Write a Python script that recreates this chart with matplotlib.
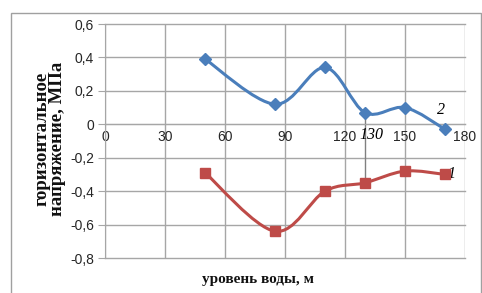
import numpy as np
import matplotlib
matplotlib.use("Agg")
import matplotlib.pyplot as plt
from matplotlib.path import Path
from matplotlib.patches import PathPatch, Rectangle

# water level, m
level = [50, 85, 110, 130, 150, 170]
# horizontal stress, MPa
stress_1 = [-0.29, -0.64, -0.40, -0.35, -0.28, -0.30]
stress_2 = [0.39, 0.12, 0.34, 0.07, 0.10, -0.03]

x_ticks = [0, 30, 60, 90, 120, 150, 180]
y_ticks = [-0.8, -0.6, -0.4, -0.2, 0, 0.2, 0.4, 0.6]

blue = "#4a7ebb"
red = "#be4b48"
grid_c = "#a6a6a6"


def smooth_path(x, y):
    # excel-like smoothed line: bezier segments through the points
    p = np.column_stack([x, y]).astype(float)
    n = len(p)
    verts = [p[0]]
    codes = [Path.MOVETO]
    for i in range(n - 1):
        p0 = p[i - 1] if i > 0 else p[i]
        p3 = p[i + 2] if i + 2 < n else p[i + 1]
        c1 = p[i] + (p[i + 1] - p0) / 6
        c2 = p[i + 1] - (p3 - p[i]) / 6
        verts += [c1, c2, p[i + 1]]
        codes += [Path.CURVE4] * 3
    return Path(verts, codes)


fig = plt.figure(figsize=(4.82, 2.93), dpi=100)
ax = fig.add_axes([105 / 482, 1 - 258 / 293, 360 / 482, 234 / 293])

fig.patches.append(Rectangle((11 / 482, -0.02), 470 / 482, 1 - 13 / 293 + 0.02,
                             transform=fig.transFigure, fill=False,
                             edgecolor="#a0a0a0", lw=1))

ax.set_xlim(0, 180)
ax.set_ylim(-0.8, 0.6)
ax.set_xticks(x_ticks)
ax.set_yticks(y_ticks)
ax.set_xticklabels([str(v) for v in x_ticks])
ax.set_yticklabels([("%g" % v).replace(".", ",") for v in y_ticks])

ax.grid(True, color=grid_c, lw=1)
for gl in ax.get_xgridlines() + ax.get_ygridlines():
    gl.set_clip_on(False)
ax.set_axisbelow(True)
for s in ["top", "right"]:
    ax.spines[s].set_visible(False)
ax.spines["bottom"].set_position(("data", 0))
ax.spines["bottom"].set_color(grid_c)
ax.spines["left"].set_color(grid_c)
ax.tick_params(axis="x", length=0, pad=4, labelsize=10, labelcolor="#262626")
ax.tick_params(axis="y", length=5, color=grid_c, pad=3, labelsize=10, labelcolor="#262626")
for lab in ax.get_xticklabels() + ax.get_yticklabels():
    lab.set_family("Liberation Sans")

# connector at 130 m
ax.plot([level[3], level[3]], [stress_2[3], stress_1[3]], color="#808080", lw=1, zorder=2)

for ys, col, mk, ms in [(stress_2, blue, "D", 6), (stress_1, red, "s", 7)]:
    ax.add_patch(PathPatch(smooth_path(level, ys), fill=False, edgecolor=col, lw=2.2,
                           zorder=3, capstyle="round", joinstyle="round"))
    ax.plot(level, ys, ls="none", marker=mk, ms=ms, color=col, zorder=4)

ann = dict(family="Liberation Serif", style="italic", fontsize=11.5, ha="center", va="center")
ax.text(168, 0.085, "2", **ann)
ax.text(173, -0.30, "1", **ann)
ax.text(133, -0.065, "130", **ann)

fig.text(50 / 482, 1 - 139 / 293, "горизонтальное\nнапряжение, МПа", rotation=90,
         ha="center", va="center", multialignment="center", linespacing=0.85,
         family="Liberation Serif", weight="bold", fontsize=13.5, color="#111111")
fig.text(258 / 482, 1 - 280 / 293, "уровень воды, м", ha="center", va="center",
         family="Liberation Serif", weight="bold", fontsize=11, color="#111111")

fig.savefig("out.png", dpi=100)
